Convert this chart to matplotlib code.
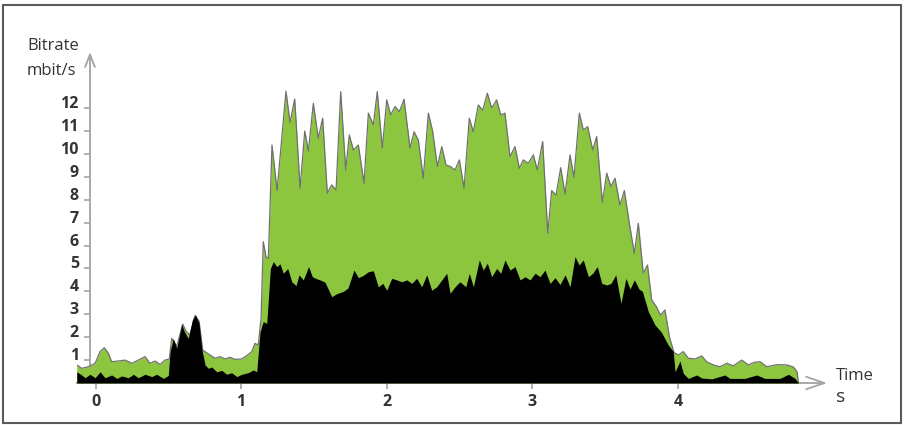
import numpy as np
import matplotlib
matplotlib.use('Agg')
import matplotlib.pyplot as plt
from matplotlib.patches import Rectangle

# total bitrate (green) - time in s, value in mbit/s
green_t = [-0.129, -0.095, -0.049, -0.003, 0.031, 0.060, 0.088, 0.111, 0.157, 0.203,
	0.249, 0.294, 0.340, 0.374, 0.409, 0.443, 0.477, 0.507, 0.523, 0.558,
	0.599, 0.622, 0.649, 0.683, 0.711, 0.736, 0.752, 0.786, 0.821, 0.855,
	0.889, 0.924, 0.958, 1.004, 1.038, 1.073, 1.095, 1.118, 1.137, 1.152,
	1.171, 1.187, 1.212, 1.247, 1.308, 1.336, 1.368, 1.405, 1.437, 1.462,
	1.496, 1.530, 1.560, 1.592, 1.622, 1.652, 1.684, 1.718, 1.743, 1.771,
	1.805, 1.844, 1.874, 1.908, 1.935, 1.970, 2.000, 2.027, 2.057, 2.087,
	2.119, 2.160, 2.188, 2.217, 2.251, 2.286, 2.316, 2.348, 2.378, 2.407,
	2.437, 2.469, 2.499, 2.531, 2.567, 2.595, 2.629, 2.659, 2.691, 2.721,
	2.755, 2.783, 2.812, 2.847, 2.881, 2.911, 2.938, 2.972, 3.007, 3.034,
	3.071, 3.106, 3.133, 3.163, 3.195, 3.225, 3.259, 3.286, 3.323, 3.350,
	3.380, 3.415, 3.442, 3.481, 3.511, 3.540, 3.568, 3.602, 3.632, 3.668,
	3.701, 3.728, 3.762, 3.791, 3.820, 3.852, 3.880, 3.911, 3.942, 3.973,
	4.003, 4.037, 4.071, 4.117, 4.163, 4.197, 4.243, 4.289, 4.335, 4.381,
	4.438, 4.484, 4.523, 4.564, 4.610, 4.679, 4.747, 4.793, 4.818, 4.828]
green_v = [0.79, 0.64, 0.71, 0.86, 1.37, 1.54, 1.30, 0.93, 0.96, 1.00,
	0.86, 1.00, 1.15, 0.86, 0.96, 0.81, 1.00, 1.05, 1.95, 1.60,
	2.57, 2.25, 2.10, 2.95, 2.70, 1.44, 1.37, 1.22, 1.08, 1.15,
	1.05, 1.12, 1.03, 1.05, 1.19, 1.37, 1.73, 1.66, 2.82, 6.17,
	5.50, 5.44, 10.39, 8.40, 12.74, 11.37, 12.40, 8.50, 11.00, 10.13,
	12.21, 10.69, 11.56, 8.28, 8.65, 8.43, 12.72, 9.30, 10.83, 10.17,
	10.39, 8.72, 11.78, 11.27, 12.72, 10.25, 12.36, 11.70, 12.07, 11.85,
	12.39, 10.25, 10.97, 10.60, 8.94, 11.78, 10.97, 9.45, 10.32, 9.52,
	9.45, 9.30, 9.74, 8.50, 11.56, 10.97, 12.14, 11.90, 12.65, 12.00,
	12.36, 11.70, 11.78, 9.88, 10.32, 9.37, 9.74, 9.59, 9.96, 9.30,
	10.54, 6.54, 8.40, 8.20, 9.40, 8.25, 9.96, 8.98, 11.78, 11.05,
	11.19, 10.17, 10.76, 7.88, 9.16, 8.57, 8.94, 7.77, 8.40, 6.90,
	5.66, 6.97, 4.79, 5.15, 3.62, 3.33, 2.97, 3.19, 2.00, 1.33,
	1.22, 1.37, 1.08, 1.05, 1.18, 0.93, 0.79, 0.71, 0.86, 0.75,
	1.00, 0.79, 0.90, 0.93, 0.71, 0.80, 0.79, 0.70, 0.49, 0.00]

# second stream (black)
black_t = [-0.129, -0.095, -0.072, -0.038, -0.003, 0.031, 0.065, 0.111, 0.146, 0.180,
	0.225, 0.260, 0.294, 0.340, 0.386, 0.420, 0.466, 0.500, 0.512, 0.534,
	0.558, 0.592, 0.610, 0.637, 0.665, 0.687, 0.711, 0.729, 0.752, 0.775,
	0.798, 0.832, 0.867, 0.901, 0.935, 0.970, 1.004, 1.049, 1.084, 1.107,
	1.130, 1.152, 1.176, 1.201, 1.221, 1.245, 1.267, 1.290, 1.320, 1.348,
	1.377, 1.398, 1.427, 1.463, 1.489, 1.519, 1.542, 1.576, 1.622, 1.657,
	1.702, 1.734, 1.775, 1.805, 1.839, 1.874, 1.908, 1.942, 1.973, 2.000,
	2.034, 2.069, 2.103, 2.138, 2.172, 2.206, 2.240, 2.275, 2.309, 2.343,
	2.378, 2.412, 2.435, 2.469, 2.503, 2.543, 2.567, 2.595, 2.636, 2.663,
	2.691, 2.721, 2.755, 2.783, 2.812, 2.847, 2.881, 2.916, 2.950, 2.984,
	3.019, 3.053, 3.087, 3.122, 3.156, 3.190, 3.225, 3.259, 3.293, 3.321,
	3.350, 3.385, 3.415, 3.446, 3.477, 3.511, 3.540, 3.573, 3.609, 3.643,
	3.671, 3.701, 3.733, 3.756, 3.797, 3.843, 3.884, 3.934, 3.968, 3.980,
	4.014, 4.037, 4.071, 4.129, 4.163, 4.232, 4.323, 4.357, 4.460, 4.541,
	4.598, 4.701, 4.759, 4.804, 4.828]
black_v = [0.49, 0.35, 0.23, 0.38, 0.23, 0.49, 0.23, 0.35, 0.20, 0.31,
	0.23, 0.38, 0.23, 0.38, 0.28, 0.38, 0.20, 0.33, 1.37, 1.95,
	1.52, 2.56, 2.24, 1.95, 2.75, 2.97, 2.60, 1.52, 0.79, 0.64,
	0.70, 0.49, 0.55, 0.38, 0.45, 0.28, 0.38, 0.45, 0.57, 0.49,
	2.24, 2.68, 2.60, 5.00, 5.30, 5.08, 5.20, 4.79, 5.00, 4.42,
	4.25, 4.72, 4.50, 5.08, 4.64, 4.55, 4.50, 4.40, 3.77, 3.90,
	4.00, 4.15, 4.93, 4.60, 4.70, 4.86, 4.90, 4.20, 4.35, 4.05,
	4.57, 4.50, 4.42, 4.50, 4.35, 4.57, 4.20, 4.72, 4.05, 4.20,
	4.50, 4.79, 3.92, 4.20, 4.42, 4.20, 4.79, 4.20, 5.37, 4.93,
	5.23, 4.64, 5.00, 4.79, 5.37, 4.93, 5.08, 4.50, 4.64, 4.50,
	4.79, 4.64, 4.93, 4.35, 4.60, 4.30, 4.72, 4.20, 5.52, 5.15,
	5.37, 4.64, 4.79, 5.08, 4.35, 4.28, 4.35, 4.72, 3.48, 4.57,
	4.10, 4.50, 4.10, 4.00, 3.11, 2.53, 2.24, 1.66, 1.37, 0.49,
	0.96, 0.42, 0.20, 0.35, 0.22, 0.18, 0.35, 0.20, 0.20, 0.35,
	0.20, 0.20, 0.38, 0.20, 0.00]

xticks = [0, 1, 2, 3, 4]
yticks = list(range(1, 13))

W, H = 905, 425
green = '#8cc63f'
axis_grey = '#a3a3a3'
txt = '#333333'
font = ['Open Sans', 'DejaVu Sans']

fig = plt.figure(figsize=(W / 100, H / 100), dpi=100)

# axes placed in pixels: x from 76.6 to 830.8, y from 52 to 383
ax = fig.add_axes([76.6 / W, (H - 383) / H, (830.8 - 76.6) / W, (383 - 52) / H])
ax.set_xlim(-0.13, 5.05)
ax.set_ylim(0, 14.45)
ax.patch.set_alpha(0)

ax.fill_between(green_t, green_v, color=green, lw=0, zorder=2)
ax.plot(green_t, green_v, color='#707070', lw=0.9, zorder=3)
ax.fill_between(black_t, black_v, color='black', lw=0, zorder=4)

for s in ax.spines.values():
	s.set_visible(False)
ax.spines['left'].set_position(('data', -0.038))

# axis arrows
ax.annotate('', xy=(-0.038, 14.45), xytext=(-0.038, 0), annotation_clip=False,
	arrowprops=dict(arrowstyle='->,head_length=0.9,head_width=0.35', color=axis_grey, lw=1.3, shrinkA=0, shrinkB=0), zorder=1)
ax.annotate('', xy=(5.024, 0), xytext=(-0.13, 0), annotation_clip=False,
	arrowprops=dict(arrowstyle='->,head_length=1.3,head_width=0.45', color=axis_grey, lw=1.3, shrinkA=0, shrinkB=0), zorder=1)

ax.set_yticks(yticks)
ax.set_yticklabels([str(v) for v in yticks])
ax.set_xticks(xticks)
ax.set_xticklabels([str(v) for v in xticks])
ax.tick_params(axis='y', direction='out', length=4, width=1.2, color=axis_grey, pad=4, labelcolor=txt)
ax.tick_params(axis='x', direction='out', length=4, width=1.2, color=axis_grey, pad=4, labelcolor=txt)
for lbl in ax.get_yticklabels() + ax.get_xticklabels():
	lbl.set_fontfamily(font)
	lbl.set_fontsize(11.5)
	lbl.set_fontweight('bold')
for lbl in ax.get_yticklabels():
	lbl.set_verticalalignment('baseline')

# axis titles
fig.text(27 / W, (H - 50) / H, 'Bitrate', family=font, fontsize=12, color=txt, ha='left', va='baseline')
fig.text(27 / W, (H - 75) / H, 'mbit/s', family=font, fontsize=12, color=txt, ha='left', va='baseline')
fig.text(836 / W, (H - 380) / H, 'Time', family=font, fontsize=12, color=txt, ha='left', va='baseline')
fig.text(836 / W, (H - 402) / H, 's', family=font, fontsize=14, color=txt, ha='left', va='baseline')

# frame around the picture
fig.patches.append(Rectangle((3 / W, 2 / H), 898 / W, 418 / H, transform=fig.transFigure,
	fill=False, edgecolor='#5a5a5a', lw=1.5))

plt.savefig('out.png', dpi=100)
